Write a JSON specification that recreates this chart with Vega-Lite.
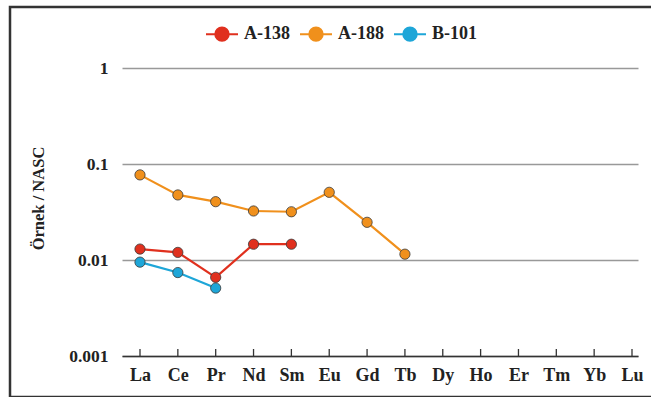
{
  "$schema": "https://vega.github.io/schema/vega-lite/v6.json",
  "width": 645,
  "height": 390,
  "autosize": {"type": "none"},
  "padding": {"left": 10, "top": 7, "right": 0, "bottom": 0},
  "background": "white",
  "config": {
    "view": {"stroke": "#333333", "strokeWidth": 2.5},
    "font": "Liberation Serif"
  },
  "data": {
    "values": [
      {"element": "La", "sample": "A-138", "value": 0.0130},
      {"element": "Ce", "sample": "A-138", "value": 0.0120},
      {"element": "Pr", "sample": "A-138", "value": 0.0066},
      {"element": "Nd", "sample": "A-138", "value": 0.0146},
      {"element": "Sm", "sample": "A-138", "value": 0.0146},
      {"element": "La", "sample": "A-188", "value": 0.077},
      {"element": "Ce", "sample": "A-188", "value": 0.0476},
      {"element": "Pr", "sample": "A-188", "value": 0.0405},
      {"element": "Nd", "sample": "A-188", "value": 0.0324},
      {"element": "Sm", "sample": "A-188", "value": 0.0318},
      {"element": "Eu", "sample": "A-188", "value": 0.0507},
      {"element": "Gd", "sample": "A-188", "value": 0.0247},
      {"element": "Tb", "sample": "A-188", "value": 0.0115},
      {"element": "La", "sample": "B-101", "value": 0.0095},
      {"element": "Ce", "sample": "B-101", "value": 0.0074},
      {"element": "Pr", "sample": "B-101", "value": 0.0051}
    ]
  },
  "encoding": {
    "x": {
      "field": "element",
      "type": "ordinal",
      "sort": ["La","Ce","Pr","Nd","Sm","Eu","Gd","Tb","Dy","Ho","Er","Tm","Yb","Lu"],
      "scale": {"type": "point", "domain": ["La","Ce","Pr","Nd","Sm","Eu","Gd","Tb","Dy","Ho","Er","Tm","Yb","Lu"], "range": [112, 628], "padding": 0.317, "align": 0.75},
      "axis": {
        "orient": "bottom",
        "offset": -41,
        "title": null,
        "labelAngle": 0,
        "labelFont": "Liberation Serif",
        "labelFontWeight": "bold",
        "labelFontSize": 18,
        "labelColor": "#222222",
        "labelPadding": 10,
        "domainColor": "#333333",
        "domainWidth": 1.5,
        "ticks": false,
        "grid": false
      }
    },
    "y": {
      "field": "value",
      "type": "quantitative",
      "scale": {"type": "log", "domain": [0.001, 1], "range": [349, 61]},
      "axis": {
        "orient": "left",
        "offset": -112,
        "values": [0.001, 0.01, 0.1, 1],
        "format": "~g",
        "grid": true,
        "gridColor": "#999999",
        "gridWidth": 1.3,
        "domain": false,
        "ticks": false,
        "labelFont": "Liberation Serif",
        "labelFontWeight": "bold",
        "labelFontSize": 17.5,
        "labelColor": "#222222",
        "labelPadding": 14,
        "title": "Örnek / NASC",
        "titleFont": "Liberation Serif",
        "titleFontWeight": "bold",
        "titleFontSize": 16.5,
        "titleColor": "#222222",
        "titleAngle": 270,
        "titleAlign": "center",
        "titleBaseline": "middle",
        "titleX": -84,
        "titleY": 191
      }
    },
    "order": {"value": null}
  },
  "layer": [
    {
      "data": {
        "values": [
          {"element": "La", "value": 0.001},
          {"element": "Ce", "value": 0.001},
          {"element": "Pr", "value": 0.001},
          {"element": "Nd", "value": 0.001},
          {"element": "Sm", "value": 0.001},
          {"element": "Eu", "value": 0.001},
          {"element": "Gd", "value": 0.001},
          {"element": "Tb", "value": 0.001},
          {"element": "Dy", "value": 0.001},
          {"element": "Ho", "value": 0.001},
          {"element": "Er", "value": 0.001},
          {"element": "Tm", "value": 0.001},
          {"element": "Yb", "value": 0.001},
          {"element": "Lu", "value": 0.001}
        ]
      },
      "mark": {"type": "tick", "orient": "vertical", "size": 7, "thickness": 1.3, "color": "#333333", "opacity": 1, "yOffset": -3.5}
    },
    {
      "mark": {"type": "line", "strokeWidth": 2.2},
      "encoding": {
        "color": {
          "field": "sample",
          "type": "nominal",
          "scale": {"domain": ["A-138", "A-188", "B-101"], "range": ["#e0301e", "#f0901c", "#1ea6d8"]},
          "legend": {
            "orient": "none",
            "legendX": 195,
            "legendY": 10,
            "direction": "horizontal",
            "title": null,
            "labelFont": "Liberation Serif",
            "labelFontWeight": "bold",
            "labelFontSize": 18,
            "labelColor": "#222222",
            "labelOffset": 5,
            "columnPadding": 6,
            "symbolType": "M-1,0H-0.42M0.42,0H1M-0.42,0A0.42,0.42 0 1,0 0.42,0A0.42,0.42 0 1,0 -0.42,0Z",
            "symbolSize": 1024,
            "symbolStrokeWidth": 2
          }
        }
      }
    },
    {
      "mark": {"type": "point", "filled": true, "size": 105, "stroke": "#3a3a3a", "strokeWidth": 0.8, "opacity": 1},
      "encoding": {
        "color": {
          "field": "sample",
          "type": "nominal",
          "scale": {"domain": ["A-138", "A-188", "B-101"], "range": ["#e0301e", "#f0901c", "#1ea6d8"]},
          "legend": {
            "orient": "none",
            "legendX": 195,
            "legendY": 10,
            "direction": "horizontal",
            "title": null,
            "labelFont": "Liberation Serif",
            "labelFontWeight": "bold",
            "labelFontSize": 18,
            "labelColor": "#222222",
            "labelOffset": 5,
            "columnPadding": 6,
            "symbolType": "M-1,0H-0.42M0.42,0H1M-0.42,0A0.42,0.42 0 1,0 0.42,0A0.42,0.42 0 1,0 -0.42,0Z",
            "symbolSize": 1024,
            "symbolStrokeWidth": 2
          }
        }
      }
    }
  ]
}
